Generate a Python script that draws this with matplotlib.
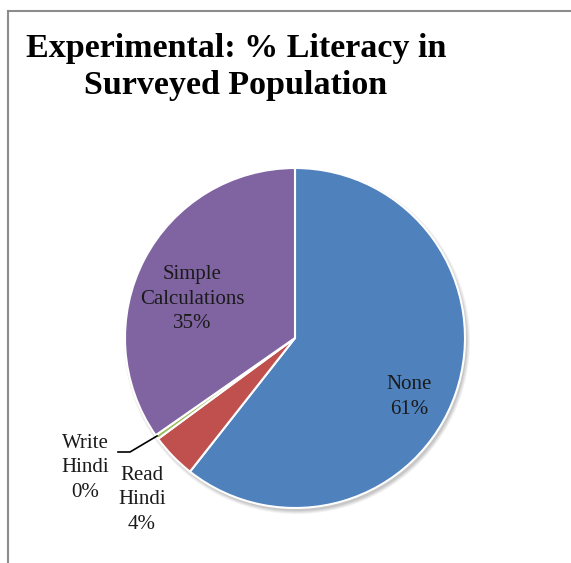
import matplotlib.pyplot as plt
from matplotlib.patches import Circle

W, H = 571, 563

categories = ["None", "Read\nHindi", "Write\nHindi", "Simple\nCalculations"]
pcts = [60.6, 4.3, 0.4, 34.7]
colors = ["#4F81BD", "#C0504D", "#9BBB59", "#8064A2"]

# label centres in pixels (x, y from the top)
label_pos = [(409, 397), (142, 500), (85, 468), (192, 299)]

fig = plt.figure(figsize=(W / 100, H / 100), dpi=100)
ax = fig.add_axes([0, 0, 1, 1])
ax.set_xlim(0, W)
ax.set_ylim(0, H)
ax.set_aspect("equal")
ax.axis("off")

def py(y):
    return H - y

cx, cy, r = 295, py(338), 170

# soft shadow under the pie
for i, a in enumerate([0.05, 0.05, 0.06, 0.07]):
    ax.add_patch(Circle((cx + 2, cy - 3), r + 3 - i, color="black", alpha=a, lw=0))

ax.pie(pcts, colors=colors, startangle=90, counterclock=False,
       center=(cx, cy), radius=r, frame=True,
       wedgeprops=dict(edgecolor="white", linewidth=1.5))
ax.set_xlim(0, W)
ax.set_ylim(0, H)
ax.axis("off")

for name, p, (x, y) in zip(categories, pcts, label_pos):
    ax.text(x, py(y), f"{name}\n{round(p)}%", ha="center", va="center",
            fontsize=15, family="Liberation Serif", color="#1a1a1a",
            linespacing=1.4)

# leader line for the thin slice
ax.plot([118, 130, 157], [py(452), py(452), py(436)], color="black", lw=1.2)

# chart frame (left and top edges)
ax.plot([8, 8], [py(11), 0], color="#8c8c8c", lw=1.5)
ax.plot([8, W], [py(11), py(11)], color="#8c8c8c", lw=1.5)

ax.text(236, py(67), "Experimental: % Literacy in\nSurveyed Population",
        ha="center", va="center", fontsize=24.5, fontweight="bold",
        family="Liberation Serif", linespacing=1.25)

fig.savefig("out.png", dpi=100)
